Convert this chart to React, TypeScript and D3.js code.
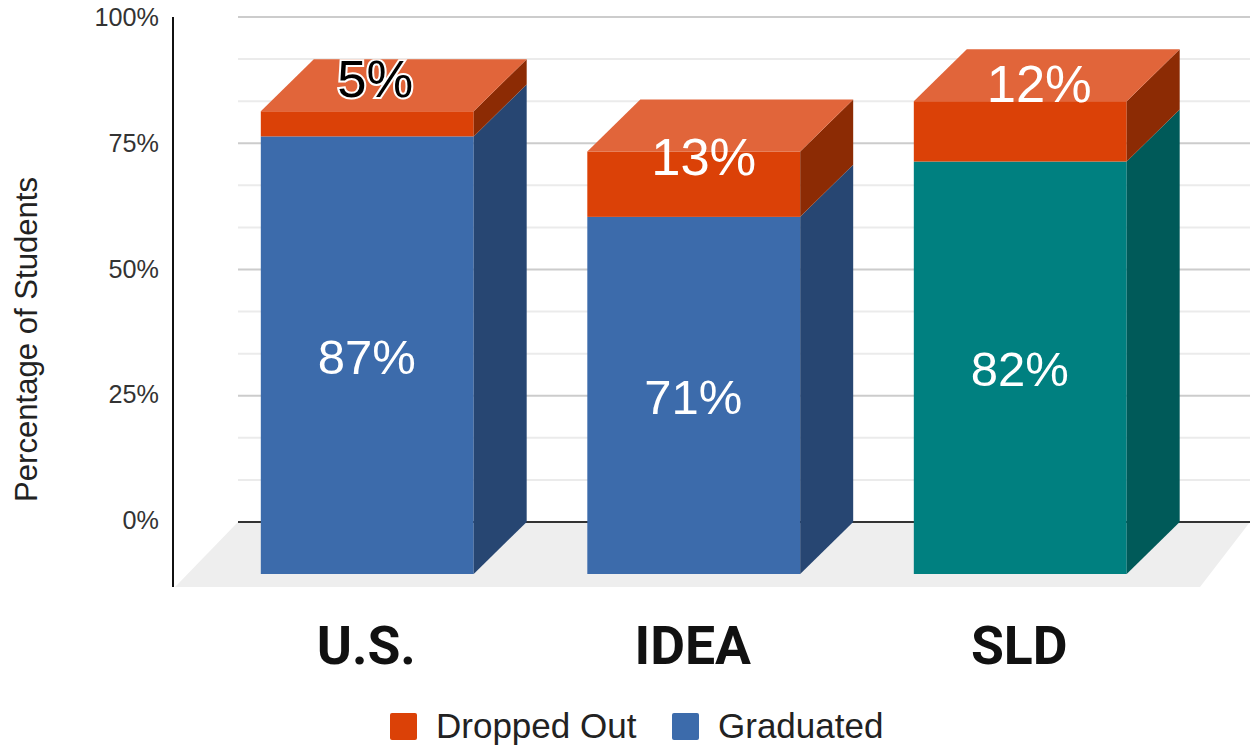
import * as d3 from "d3";
import React, { useEffect, useRef } from "react";

const categories = ["U.S.", "IDEA", "SLD"];
const graduated = [87, 71, 82];
const droppedOut = [5, 13, 12];
const yTicks = [0, 25, 50, 75, 100];
const minorTicks = [0, 8.33, 16.67, 25, 33.33, 41.67, 50, 58.33, 66.67, 75, 83.33, 91.67, 100];

// front / side / top shades per series
const droppedColors = { front: "#db4107", side: "#8c2b04", top: "#e1653a" };
const gradColors = { front: "#3c6bab", side: "#274672" };
const sldColors = { front: "#008080", side: "#005a59" };

const App: React.FC = () => {
  const ref = useRef<SVGSVGElement>(null);

  useEffect(() => {
    const width = 1250;
    const height = 745;
    const depthX = 53;
    const depthY = 52;
    const wallLeft = 238;

    const svg = d3.select(ref.current).attr("width", width).attr("height", height);
    svg.selectAll("*").remove();

    const y = d3.scaleLinear().domain([0, 100]).range([522, 17]);
    // bars and tick labels sit slightly off the grid in the original
    const barY = d3.scaleLinear().domain([0, 100]).range([522, 19]);
    const tickY = d3.scaleLinear().domain([0, 100]).range([520, 17]);
    const x = d3.scaleBand<string>()
      .domain(categories)
      .range([204, 1183.5])
      .paddingInner(0.348)
      .paddingOuter(0.174);

    const poly = d3.line();
    const shape = (pts: [number, number][]) => poly(pts) + "Z";

    // Floor
    svg.append("path")
      .attr("d", shape([[wallLeft, y(0)], [width, y(0)], [1200, 587], [175, 587]]))
      .attr("fill", "#eeeeee");

    // Grid lines on the back wall
    svg.append("g").selectAll("line")
      .data(minorTicks.slice(1))
      .join("line")
      .attr("x1", wallLeft)
      .attr("x2", width)
      .attr("y1", (d) => y(d))
      .attr("y2", (d) => y(d))
      .attr("stroke", (d) => (yTicks.includes(d) ? "#cccccc" : "#ebebeb"))
      .attr("stroke-width", 2);

    // Zero line
    svg.append("line")
      .attr("x1", wallLeft)
      .attr("x2", width)
      .attr("y1", y(0))
      .attr("y2", y(0))
      .attr("stroke", "#333333")
      .attr("stroke-width", 2);

    // Y axis
    svg.append("line")
      .attr("x1", 173)
      .attr("x2", 173)
      .attr("y1", 17)
      .attr("y2", 587)
      .attr("stroke", "#111111")
      .attr("stroke-width", 2);

    svg.append("g").selectAll("text")
      .data(yTicks)
      .join("text")
      .attr("x", 159)
      .attr("y", (d) => tickY(d))
      .attr("dy", "0.36em")
      .attr("text-anchor", "end")
      .attr("font-family", "'Liberation Sans', Arial, sans-serif")
      .attr("font-size", 25.2)
      .attr("fill", "#333333")
      .text((d) => `${d}%`);

    svg.append("text")
      .attr("transform", "translate(37,339.5) rotate(-90)")
      .attr("text-anchor", "middle")
      .attr("font-family", "'Liberation Sans', Arial, sans-serif")
      .attr("font-size", 31.1)
      .attr("fill", "#222222")
      .text("Percentage of Students");

    // Stacked blocks, drawn front face + side + top
    const rows = categories.map((c, i) => ({ category: c, graduated: graduated[i], droppedOut: droppedOut[i] }));
    const series = d3.stack<{ category: string; graduated: number; droppedOut: number }>()
      .keys(["graduated", "droppedOut"])(rows);

    const blocks = svg.append("g");
    series.forEach((s) => {
      s.forEach((d) => {
        const cat = d.data.category;
        const isDropped = s.key === "droppedOut";
        const colors = isDropped ? droppedColors : cat === "SLD" ? sldColors : gradColors;
        const x0 = x(cat)!;
        const x1 = x0 + x.bandwidth();
        const yTop = barY(d[1]) + depthY;
        const yBot = barY(d[0]) + depthY;

        blocks.append("rect")
          .attr("x", x0)
          .attr("y", yTop)
          .attr("width", x.bandwidth())
          .attr("height", yBot - yTop)
          .attr("fill", colors.front);

        blocks.append("path")
          .attr("d", shape([[x1, yTop], [x1 + depthX, yTop - depthY], [x1 + depthX, yBot - depthY], [x1, yBot]]))
          .attr("fill", colors.side);

        if (isDropped) {
          blocks.append("path")
            .attr("d", shape([[x0, yTop], [x0 + depthX, yTop - depthY], [x1 + depthX, yTop - depthY], [x1, yTop]]))
            .attr("fill", droppedColors.top);
        }
      });
    });

    // Labels for graduated sit in the middle of the front face
    categories.forEach((c, i) => {
      svg.append("text")
        .attr("x", x(c)! + x.bandwidth() / 2 - 0.5)
        .attr("y", (barY(0) + barY(graduated[i])) / 2 + depthY + 1)
        .attr("dy", "0.36em")
        .attr("text-anchor", "middle")
        .attr("font-family", "'Liberation Sans', Arial, sans-serif")
        .attr("font-size", 49)
        .attr("fill", "#ffffff")
        .text(`${graduated[i]}%`);
    });

    // Dropped out labels were nudged by hand in the original
    const droppedNudge = [[8, -46], [10, -28], [19, -48]];
    svg.append("defs").append("clipPath").attr("id", "us-label-clip")
      .append("rect")
      .attr("x", 0)
      .attr("y", barY(graduated[0] + droppedOut[0]))
      .attr("width", width)
      .attr("height", 200);

    categories.forEach((c, i) => {
      const mid = (barY(graduated[i]) + barY(graduated[i] + droppedOut[i])) / 2 + depthY;
      const label = svg.append("text")
        .attr("x", x(c)! + x.bandwidth() / 2 + droppedNudge[i][0])
        .attr("y", mid + droppedNudge[i][1])
        .attr("dy", "0.36em")
        .attr("text-anchor", "middle")
        .attr("font-family", "'Liberation Sans', Arial, sans-serif")
        .attr("font-size", 52.5)
        .attr("fill", i === 0 ? "#000000" : "#ffffff")
        .text(`${droppedOut[i]}%`);
      if (i === 0) {
        label
          .attr("stroke", "#ffffff")
          .attr("stroke-width", 4)
          .attr("paint-order", "stroke")
          .attr("clip-path", "url(#us-label-clip)");
      }
    });

    // Category labels
    svg.append("g").selectAll("text")
      .data(categories)
      .join("text")
      .attr("x", (d) => x(d)! + x.bandwidth() / 2 - 1)
      .attr("y", 664)
      .attr("text-anchor", "middle")
      .attr("font-family", "Roboto, sans-serif")
      .attr("font-weight", 700)
      .attr("font-size", 53.5)
      .attr("fill", "#111111")
      .text((d) => d);

    // Legend
    const legend = svg.append("g");
    const legendItems = [
      { label: "Dropped Out", color: droppedColors.front, x: 390 },
      { label: "Graduated", color: gradColors.front, x: 672 },
    ];
    legendItems.forEach((item) => {
      legend.append("rect")
        .attr("x", item.x)
        .attr("y", 713)
        .attr("width", 27)
        .attr("height", 27)
        .attr("rx", 2)
        .attr("fill", item.color);
      legend.append("text")
        .attr("x", item.x + 46)
        .attr("y", 738)
        .attr("font-family", "'Liberation Sans', Arial, sans-serif")
        .attr("font-size", 35)
        .attr("fill", "#222222")
        .text(item.label);
    });
  }, []);

  return (
    <svg
      ref={ref}
      style={{ position: "absolute", left: 0, top: 0, background: "#ffffff" }}
    ></svg>
  );
};

export default App;
